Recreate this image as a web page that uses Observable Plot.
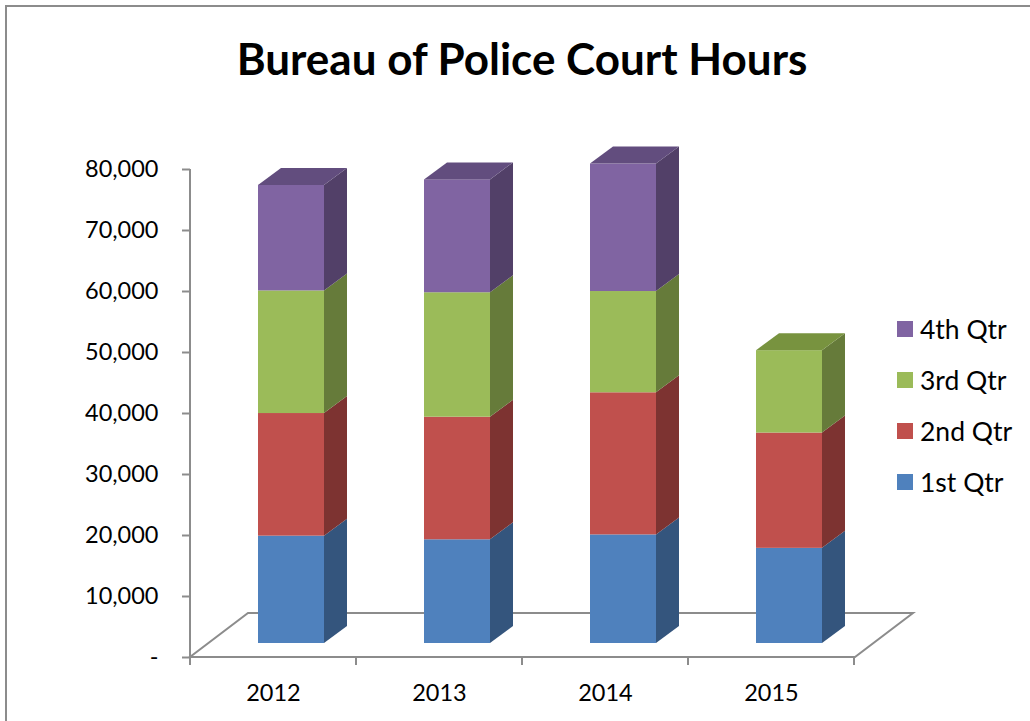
<!DOCTYPE html>
<html>
<head>
<meta charset="utf-8">
<script src="https://cdn.jsdelivr.net/npm/d3@7"></script>
<script src="https://cdn.jsdelivr.net/npm/@observablehq/plot@0.6"></script>
<style>
  html, body { margin: 0; padding: 0; background: #fff; }
  #chart { position: relative; width: 1030px; height: 721px; overflow: hidden; font-family: Lato, "Open Sans", sans-serif; color: #000; }
  #frame { position: absolute; left: 5px; top: 5px; width: 1040px; height: 730px; border-left: 2px solid #8c8c8c; border-top: 2px solid #8c8c8c; box-sizing: border-box; }
  #title { position: relative; height: 110px; width: 1030px; box-sizing: border-box; padding-top: 30px; padding-left: 14px; text-align: center; font-weight: 700; font-size: 44px; line-height: 56px; }
  #plot { position: relative; }
  #legend { position: absolute; left: 897px; top: 303px; font-size: 26.5px; }
  .item { display: flex; align-items: center; height: 51px; }
  .sw { width: 16px; height: 16px; margin-right: 7px; flex: none; }
</style>
</head>
<body>
<div id="chart">
  <div id="frame"></div>
  <div id="title">Bureau of Police Court Hours</div>
  <div id="plot"></div>
  <div id="legend"></div>
</div>
<script>
// ---- data ----
const years = ["2012", "2013", "2014", "2015"];
const quarters = ["1st Qtr", "2nd Qtr", "3rd Qtr", "4th Qtr"];
const q1 = [17600, 17000, 17800, 15600];
const q2 = [20100, 20100, 23300, 18900];
const q3 = [20100, 20400, 16600, 13500];
const q4 = [17300, 18500, 20900, 0];
const yTicks = [0, 10000, 20000, 30000, 40000, 50000, 60000, 70000, 80000];

// ---- styles ----
const frontColors = ["#4F81BD", "#C0504D", "#9BBB59", "#8064A2"];
const sideColors = ["#34557D", "#7D3331", "#667B3A", "#524068"];
const topColors = ["#3F6796", "#9A403E", "#78933F", "#624D7E"];
const gridGray = "#8c8c8c";

const series = [q1, q2, q3, q4];
const rows = [];
years.forEach((yr, i) => {
  let base = 0;
  quarters.forEach((q, j) => {
    const v = series[j][i];
    if (v > 0) {
      rows.push({year: yr, quarter: q, qi: j, value: v, lo: base, hi: base + v});
      base += v;
    }
  });
});

// oblique 3D offsets (pixels)
const DX = 18, DY = -14;     // front face set into the floor
const SX = 23, SY = -17;     // bar depth
const FX = 58, FY = -44;     // floor depth

const plot = Plot.plot({
  width: 1030,
  height: 611,
  marginTop: 59,
  marginBottom: 64,
  marginLeft: 190,
  marginRight: 175,
  style: {fontFamily: "Lato, 'Open Sans', sans-serif", fontSize: "23.5px", color: "#000", background: "transparent", overflow: "visible"},
  x: {domain: years, paddingInner: 0.6, paddingOuter: 0.3, axis: null},
  y: {domain: [0, 80000], axis: null},
  color: {domain: quarters, range: frontColors},
  marks: [
    Plot.axisY({ticks: yTicks, tickSize: 8, tickPadding: 24, stroke: gridGray, strokeWidth: 2, strokeOpacity: 1, fill: "#000", label: null,
      tickFormat: d => d === 0 ? "-" : d3.format(",")(d)}),
    Plot.axisX({tickSize: 0, tickPadding: 27, fill: "#000", label: null}),
    Plot.barY(rows, {x: "year", y: "value", fill: "quarter", order: quarters, dx: DX, dy: DY})
  ]
});

const svg = d3.select(plot);
const xs = plot.scale("x"), ys = plot.scale("y");
const bw = xs.bandwidth, step = xs.step;
const [x0, x1] = xs.range;
const yb = ys.apply(0), yt = ys.apply(80000);

// floor, axis lines (drawn behind the bars)
const floor = svg.insert("g", ":first-child").attr("fill", "none").attr("stroke", gridGray).attr("stroke-width", 2);
floor.append("polygon")
  .attr("points", [[x0, yb], [x1, yb], [x1 + FX, yb + FY], [x0 + FX, yb + FY]].map(p => p.join(",")).join(" "))
  .attr("fill", "#fff");
floor.append("line").attr("x1", x0).attr("x2", x0).attr("y1", yt).attr("y2", yb + 1);
d3.range(years.length + 1).forEach(k => {
  const x = x0 + k * step;
  floor.append("line").attr("x1", x).attr("x2", x).attr("y1", yb).attr("y2", yb + 8);
});

// side and top faces
const faces = svg.append("g");
const pts = a => a.map(p => p.join(",")).join(" ");
rows.forEach(r => {
  const xl = xs.apply(r.year) + DX;
  const xr = xl + bw;
  const ya = ys.apply(r.lo) + DY, yh = ys.apply(r.hi) + DY;
  faces.append("polygon").attr("fill", sideColors[r.qi])
    .attr("points", pts([[xr, ya], [xr, yh], [xr + SX, yh + SY], [xr + SX, ya + SY]]));
});
years.forEach(yr => {
  const rs = rows.filter(r => r.year === yr);
  const top = rs[rs.length - 1];
  const xl = xs.apply(yr) + DX, xr = xl + bw, yh = ys.apply(top.hi) + DY;
  faces.append("polygon").attr("fill", topColors[top.qi])
    .attr("points", pts([[xl, yh], [xr, yh], [xr + SX, yh + SY], [xl + SX, yh + SY]]));
});

document.getElementById("plot").appendChild(plot);

// legend
const legend = d3.select("#legend");
quarters.slice().reverse().forEach(q => {
  const it = legend.append("div").attr("class", "item");
  it.append("div").attr("class", "sw").style("background", frontColors[quarters.indexOf(q)]);
  it.append("span").text(q);
});
</script>
</body>
</html>
